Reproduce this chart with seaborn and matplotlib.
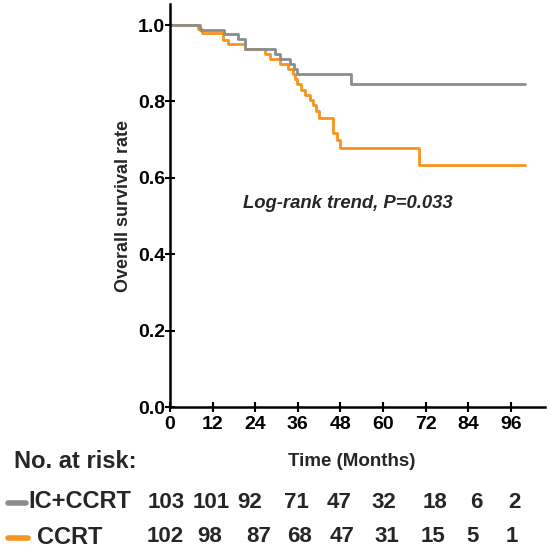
import numpy as np
import pandas as pd
import matplotlib
matplotlib.use("Agg")
import matplotlib.pyplot as plt
import seaborn as sns
from matplotlib.lines import Line2D

# ---------------- data ----------------
groups = ["IC+CCRT", "CCRT"]
ic_time = [0, 8.5, 15.2, 19.2, 21.1, 29.6, 31.0, 33.8, 35.0, 35.8, 51.0, 100]
ic_surv = [1.0, 0.987, 0.976, 0.963, 0.937, 0.924, 0.911, 0.898, 0.885, 0.872, 0.845, 0.845]
cc_time = [0, 7.9, 9.0, 15.0, 16.2, 21.1, 26.8, 28.2, 31.0, 33.3, 34.6, 35.2, 35.7,
           36.9, 38.0, 39.4, 40.4, 41.1, 42.0, 46.0, 47.0, 47.9, 70.0, 100]
cc_surv = [1.0, 0.99, 0.98, 0.961, 0.95, 0.937, 0.924, 0.911, 0.898, 0.885, 0.872, 0.859, 0.846,
           0.831, 0.817, 0.804, 0.79, 0.775, 0.757, 0.717, 0.699, 0.678, 0.634, 0.634]
x_ticks = [0, 12, 24, 36, 48, 60, 72, 84, 96]
y_ticks = [0.0, 0.2, 0.4, 0.6, 0.8, 1.0]
risk_ic = [103, 101, 92, 71, 47, 32, 18, 6, 2]
risk_cc = [102, 98, 87, 68, 47, 31, 15, 5, 1]
annotation = "Log-rank trend, P=0.033"

# ---------------- style ----------------
sns.set_style("ticks")
plt.rcParams["font.family"] = ["Liberation Sans", "DejaVu Sans"]
plt.rcParams["font.weight"] = "bold"

colors = {"IC+CCRT": "#8c8c8c", "CCRT": "#f7941d"}

df = pd.concat([
    pd.DataFrame({"time": ic_time, "surv": ic_surv, "group": groups[0]}),
    pd.DataFrame({"time": cc_time, "surv": cc_surv, "group": groups[1]}),
], ignore_index=True)

W, H = 550, 551
fig = plt.figure(figsize=(5.5, 5.51), dpi=100)
ax = fig.add_axes([170 / W, 1 - 407 / H, 375 / W, 403 / H])

sns.lineplot(data=df, x="time", y="surv", hue="group", palette=colors,
             hue_order=["CCRT", "IC+CCRT"], estimator=None, sort=False,
             drawstyle="steps-post", linewidth=2.0, legend=False, ax=ax)

ax.set_xlim(0, 105.6)
ax.set_ylim(0, 1.055)
ax.set_xticks(x_ticks)
ax.set_yticks(y_ticks)
ax.set_xticklabels([str(t) for t in x_ticks], fontsize=14, fontweight="bold")
ax.set_yticklabels([f"{v:.1f}" for v in y_ticks], fontsize=14, fontweight="bold")
ax.tick_params(axis="both", direction="inout", length=7, width=1.5, colors="black")
ax.tick_params(axis="y", pad=0)
ax.tick_params(axis="x", pad=3)
for s in ["top", "right"]:
    ax.spines[s].set_visible(False)
for s in ["left", "bottom"]:
    ax.spines[s].set_linewidth(1.8)
    ax.spines[s].set_color("black")

ax.set_xlabel("")
ax.set_ylabel("Overall survival rate", fontsize=13, fontweight="bold", labelpad=4)

ax.text(50.1, 0.534, annotation, fontsize=13.3, fontweight="bold", style="italic",
        ha="center", va="center")

# ---------------- risk table ----------------
def fx(px):
    return px / W

def fy(py):
    return 1 - py / H

fig.text(fx(352), fy(461), "Time (Months)", fontsize=13.5, fontweight="bold",
         ha="center", va="center")
fig.text(fx(14), fy(461), "No. at risk:", fontsize=17, fontweight="bold",
         ha="left", va="center")

row_y = [502, 537]
col_x = [[166, 211, 250, 296, 339, 384, 435, 476, 514],
         [165, 210, 259, 300, 342, 387, 433, 473, 512]]
label_x = [28, 37]
mark_x = [(8, 26), (8, 28)]
for r, (g, vals) in enumerate(zip(groups, [risk_ic, risk_cc])):
    y = row_y[r]
    fig.add_artist(Line2D([fx(mark_x[r][0]), fx(mark_x[r][1])], [fy(y + 1), fy(y + 1)],
                          color=colors[g], linewidth=4, solid_capstyle="round",
                          transform=fig.transFigure))
    fig.text(fx(label_x[r]), fy(y), g, fontsize=17, fontweight="bold",
             ha="left", va="center")
    for v, cx in zip(vals, col_x[r]):
        fig.text(fx(cx), fy(y), str(v), fontsize=16, fontweight="bold",
                 ha="center", va="center")

fig.savefig("out.png", dpi=100)
